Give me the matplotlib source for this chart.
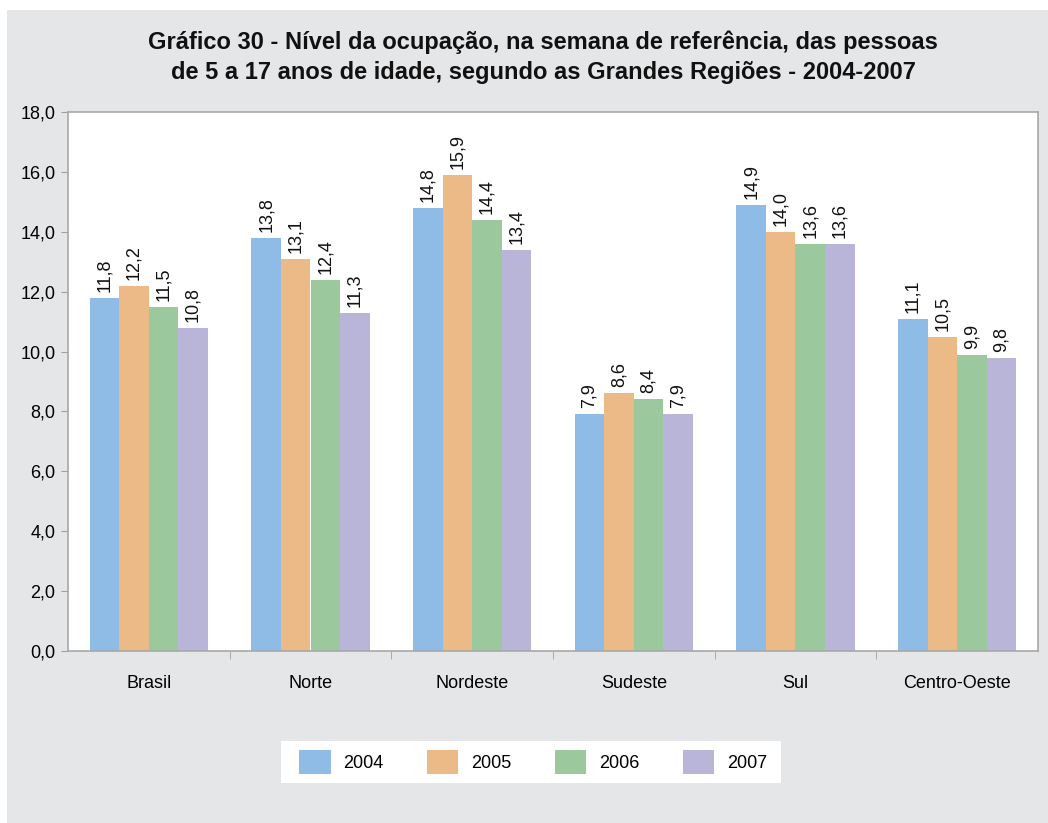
import matplotlib.pyplot as plt
import numpy as np
from matplotlib.patches import Rectangle

# data
regioes = ["Brasil", "Norte", "Nordeste", "Sudeste", "Sul", "Centro-Oeste"]
anos = ["2004", "2005", "2006", "2007"]
v2004 = [11.8, 13.8, 14.8, 7.9, 14.9, 11.1]
v2005 = [12.2, 13.1, 15.9, 8.6, 14.0, 10.5]
v2006 = [11.5, 12.4, 14.4, 8.4, 13.6, 9.9]
v2007 = [10.8, 11.3, 13.4, 7.9, 13.6, 9.8]
series = [v2004, v2005, v2006, v2007]
cores = ["#8EBCE6", "#ECBA86", "#9BC99D", "#B9B5D9"]

plt.rcParams['font.family'] = ['Liberation Sans', 'DejaVu Sans']

W, H = 1048, 823
fig = plt.figure(figsize=(W / 100, H / 100), dpi=100)
fig.patch.set_facecolor("white")
# grey panel behind everything
fig.patches.append(Rectangle((7 / W, 0), 1, 1 - 10 / H, transform=fig.transFigure,
                             facecolor="#E5E6E8", edgecolor="none", zorder=-10))
# white box behind the legend
fig.patches.append(Rectangle((281 / W, 1 - 783 / H), 500 / W, 42 / H, transform=fig.transFigure,
                             facecolor="white", edgecolor="none", zorder=-5))

ax = fig.add_axes([68 / W, 1 - 651 / H, 970 / W, 539 / H])
ax.set_facecolor("white")

x = np.arange(len(regioes))
w = 0.1825
for i, (vals, c, ano) in enumerate(zip(series, cores, anos)):
    pos = x + (i - 1.5) * w
    ax.bar(pos, vals, width=w, color=c, label=ano, zorder=2)
    for xp, v in zip(pos, vals):
        ax.text(xp, v + 0.2, f"{v:.1f}".replace(".", ","), rotation=90,
                ha="center", va="bottom", fontsize=13, color="#111111")

ax.set_xlim(-0.5, len(regioes) - 0.5)
ax.set_ylim(0, 18)
yt = np.arange(0, 18.1, 2)
ax.set_yticks(yt)
ax.set_yticklabels([f"{t:.1f}".replace(".", ",") for t in yt], fontsize=13)
ax.set_xticks(x)
ax.set_xticklabels(regioes, fontsize=13)
ax.tick_params(axis="x", which="major", length=0, pad=17)
ax.set_xticks(np.arange(0.5, len(regioes) - 0.5), minor=True)
ax.tick_params(axis="x", which="minor", length=6, color="#A0A0A0")
ax.tick_params(axis="y", length=5, color="#A0A0A0", pad=4)
for s in ax.spines.values():
    s.set_color("#A8A8A8")
    s.set_linewidth(1.2)

fig.text(543 / W, 1 - 42 / H, "Gráfico 30 - Nível da ocupação, na semana de referência, das pessoas",
         ha="center", va="center", fontsize=17, fontweight="bold", color="#111111")
fig.text(543 / W, 1 - 72 / H, "de 5 a 17 anos de idade, segundo as Grandes Regiões - 2004-2007",
         ha="center", va="center", fontsize=17, fontweight="bold", color="#111111")

leg = fig.legend(loc="center", bbox_to_anchor=(533 / W, 1 - 762 / H), ncol=4,
                 frameon=False, fontsize=13, handlelength=1.75, handleheight=1.75,
                 columnspacing=2.4, handletextpad=0.7, borderpad=0.3)

fig.savefig("out.png", dpi=100, facecolor=fig.get_facecolor())
